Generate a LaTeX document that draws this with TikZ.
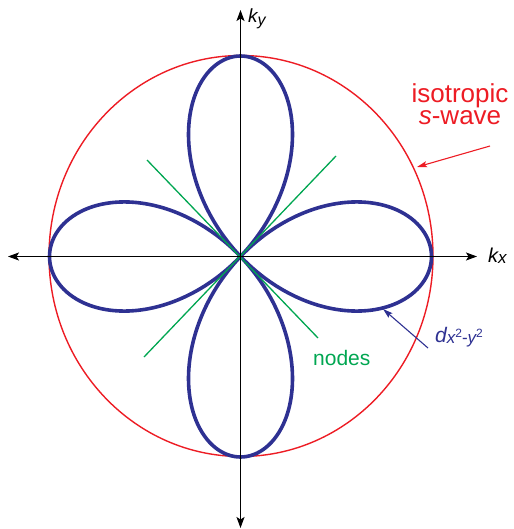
\documentclass[tikz,border=0pt]{standalone}
\usepackage{fontspec}
\setmainfont{Liberation Sans}
\usetikzlibrary{arrows.meta}
\definecolor{dblue}{RGB}{46,49,146}
\definecolor{sred}{RGB}{237,28,36}
\definecolor{ngreen}{RGB}{0,166,81}
\begin{document}
\begin{tikzpicture}[x=1pt,y=-1pt,
  axisline/.style={line width=1.3pt, black,
    {Stealth[length=11pt,width=8pt,inset=2.5pt]}-{Stealth[length=11pt,width=8pt,inset=2.5pt]}},
  lobe/.style={line width=3.6pt, dblue, line join=round},
  swave/.style={line width=1.4pt, sred},
  nodeline/.style={line width=1.3pt, ngreen},
  pointer/.style={line width=1.1pt, -{Stealth[length=10pt,width=6pt,inset=2pt]}},
  lbl/.style={inner sep=0pt, anchor=base west}
]
\useasboundingbox (0,0) rectangle (513,529);
\coordinate (O) at (240.5,256.5);
\coordinate (L) at (8,256.5);
\coordinate (R) at (477,256.5);
\coordinate (T) at (240.5,10);
\coordinate (B) at (240.5,528);
% isotropic s-wave
\draw[swave] (241,256) ellipse [x radius=192pt, y radius=200.5pt];
% d-wave lobes
\draw[lobe] plot[domain=0:359, samples=360, smooth cycle]
  ({240.5+191*cos(2*\x)*cos(\x)}, {256.5-200.5*cos(2*\x)*sin(\x)});
% nodes
\coordinate (g1) at (147,160);
\coordinate (g2) at (318,338);
\coordinate (g3) at (336,156);
\coordinate (g4) at (144,357);
\draw[nodeline] (g1) -- (g2);
\draw[nodeline] (g3) -- (g4);
% axes
\draw[axisline] (L) -- (R);
\draw[axisline] (B) -- (T);
% labels
\node[lbl] (ky) at (248,23) {\fontsize{19}{19}\selectfont\itshape k\raisebox{-2.5pt}{\fontsize{16}{16}\selectfont y}};
\node[lbl] (kx) at (488,262) {\fontsize{20}{20}\selectfont\itshape k\raisebox{-1.5pt}{\fontsize{17}{17}\selectfont x}};
\node[inner sep=0pt, anchor=center, align=center, text=sred,
  font=\fontsize{26}{22}\selectfont] (iso) at (460,104) {isotropic\\\textit{s}-wave};
\node[lbl, text=ngreen] (nd) at (313,365) {\fontsize{21}{21}\selectfont nodes};
\node[lbl, text=dblue] (dw) at (435,342) {\fontsize{21}{21}\selectfont\itshape d\raisebox{-1.5pt}{\fontsize{17}{17}\selectfont x\raisebox{6pt}{\fontsize{12}{12}\selectfont\upshape 2}\upshape -\itshape y\raisebox{6pt}{\fontsize{12}{12}\selectfont\upshape 2}}};
% pointers
\coordinate (ra) at (490,146);
\coordinate (rb) at (417,167);
\draw[pointer, sred] (ra) -- (rb);
\coordinate (ba) at (428,348);
\coordinate (bb) at (383,309);
\draw[pointer, dblue] (ba) -- (bb);
\end{tikzpicture}
\end{document}
